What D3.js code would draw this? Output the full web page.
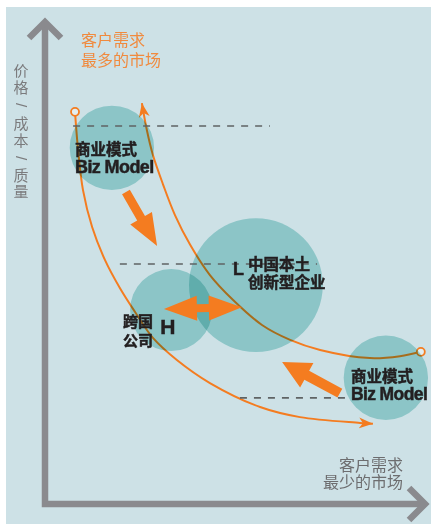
<!DOCTYPE html>
<html>
<head>
<meta charset="utf-8">
<script src="https://cdn.jsdelivr.net/npm/d3@7"></script>
<style>
  html, body { margin: 0; padding: 0; background: #fff; }
  svg { display: block; }
  text { font-family: "Liberation Sans", "Noto Sans CJK SC", sans-serif; }
</style>
</head>
<body>
<svg id="chart" width="431" height="524"></svg>
<script>
// chart units: x = 客户需求 (0-100), y = 价格/成本/质量 (0-100)
const bubbles = [
  { id: 'biz1', x: 17.6, y: 74.2, r: 11.1 },
  { id: 'local', x: 55.5, y: 45.6, r: 17.6 },
  { id: 'multi', x: 33.2, y: 40.4, r: 10.8 },
  { id: 'biz2', x: 89.7, y: 26.3, r: 11.1 }
];

// curve going down from the high end
const curveDown = [
  [7.9, 81.7], [8.7, 73.8], [10.0, 65.4], [12.4, 57.7], [15.8, 50.8],
  [19.7, 45.0], [23.7, 40.0], [28.4, 34.6], [34.7, 30.0], [43.4, 25.2],
  [56.6, 20.2], [67.1, 18.1], [82.9, 16.9], [86.3, 16.7]
];
// curve going up from the low end
const curveUp = [
  [98.9, 31.7], [93.4, 30.8], [85.5, 30.4], [72.4, 32.1], [64.5, 34.2],
  [57.1, 37.3], [49.5, 42.5], [43.4, 47.7], [38.2, 54.0], [34.2, 60.2],
  [31.1, 66.5], [28.4, 72.7], [26.8, 77.9], [25.5, 83.5]
];

const dashes = [
  { y: 78.75, x1: 7.4, x2: 59.2 },
  { y: 50.0, x1: 19.7, x2: 71.6 },
  { y: 22.1, x1: 51.3, x2: 80.8 }
];

const bigArrows = [
  { from: [21.3, 65.0], to: [29.5, 53.75], w: 9, hl: 32, hw: 25, both: false },
  { from: [77.6, 23.1], to: [62.4, 29.6], w: 10, hl: 28, hw: 28, both: false },
  { from: [31.3, 40.6], to: [51.8, 41.0], w: 8, hl: 33, hw: 25, both: true }
];

const labels = [
  { t: '商业模式', x: 7.9, y: 72.7, size: 15.5 },
  { t: 'Biz Model', x: 7.9, y: 69.0, size: 18 },
  { t: 'L', x: 49.5, y: 47.7, size: 18 },
  { t: '中国本土', x: 53.4, y: 48.75, size: 15.5 },
  { t: '创新型企业', x: 53.4, y: 45.0, size: 15.5 },
  { t: '跨国', x: 20.5, y: 36.9, size: 15 },
  { t: '公司', x: 20.5, y: 32.9, size: 15 },
  { t: 'H', x: 30.3, y: 35.4, size: 21 },
  { t: '商业模式', x: 80.5, y: 25.4, size: 15.5 },
  { t: 'Biz Model', x: 80.5, y: 21.7, size: 17.5 }
];

const yTitle = ['价', '格', '/', '成', '本', '/', '质', '量'];
const topNote = ['客户需求', '最多的市场'];
const bottomNote = ['客户需求', '最少的市场'];

const orange = '#f47c20';
const svg = d3.select('#chart');

const x = d3.scaleLinear().domain([0, 100]).range([45, 425]);
const y = d3.scaleLinear().domain([0, 100]).range([504, 24]);

svg.append('rect')
  .attr('x', 6).attr('y', 7)
  .attr('width', 425).attr('height', 517)
  .attr('fill', '#cde1e6');

const defs = svg.append('defs');
defs.append('marker')
  .attr('id', 'head')
  .attr('markerUnits', 'userSpaceOnUse')
  .attr('viewBox', '-14 -7 16 14')
  .attr('refX', 0).attr('refY', 0)
  .attr('markerWidth', 16).attr('markerHeight', 14)
  .attr('orient', 'auto')
  .append('path')
  .attr('d', 'M-14,-5.5 L0,0 L-14,5.5 L-10,0 Z')
  .attr('fill', orange);

// axes
svg.append('path')
  .attr('d', `M45,22 L45,504 L425,504`)
  .attr('fill', 'none')
  .attr('stroke', '#8a8a8e')
  .attr('stroke-width', 6.5)
  .attr('stroke-linejoin', 'miter');
svg.append('path')
  .attr('d', 'M29,38 L45,22 L61,38')
  .attr('fill', 'none').attr('stroke', '#8a8a8e').attr('stroke-width', 6.5);
svg.append('path')
  .attr('d', 'M409,488 L425,504 L409,520')
  .attr('fill', 'none').attr('stroke', '#8a8a8e').attr('stroke-width', 6.5);

// y title, one glyph per row
const yRows = [70, 87, 105, 123, 140, 158, 175, 191];
svg.selectAll('text.ytitle')
  .data(yTitle)
  .join('text')
  .attr('class', 'ytitle')
  .attr('x', 21)
  .attr('y', (d, i) => yRows[i])
  .attr('text-anchor', 'middle')
  .attr('dominant-baseline', 'central')
  .attr('transform', (d, i) => d === '/' ? `rotate(90,21,${yRows[i]})` : null)
  .attr('fill', '#7b7b7d')
  .style('font-size', '15px')
  .text(d => d);

svg.selectAll('text.topnote')
  .data(topNote)
  .join('text')
  .attr('class', 'topnote')
  .attr('x', 81)
  .attr('y', (d, i) => 46 + i * 20)
  .attr('fill', '#f08a3e')
  .style('font-size', '16px')
  .text(d => d);

svg.selectAll('text.botnote')
  .data(bottomNote)
  .join('text')
  .attr('class', 'botnote')
  .attr('x', 403)
  .attr('y', (d, i) => 471 + i * 17)
  .attr('text-anchor', 'end')
  .attr('fill', '#6d6d6f')
  .style('font-size', '16px')
  .text(d => d);

// curves
const line = d3.line()
  .x(d => x(d[0]))
  .y(d => y(d[1]))
  .curve(d3.curveCatmullRom.alpha(0.5));

[curveDown, curveUp].forEach(c => {
  svg.append('path')
    .attr('d', line(c))
    .attr('fill', 'none')
    .attr('stroke', orange)
    .attr('stroke-width', 2)
    .attr('marker-end', 'url(#head)');
});

// open ends of the curves
svg.selectAll('circle.end')
  .data([curveDown[0], curveUp[0]])
  .join('circle')
  .attr('class', 'end')
  .attr('cx', d => x(d[0]))
  .attr('cy', d => y(d[1]))
  .attr('r', 4)
  .attr('fill', '#e4eef0')
  .attr('stroke', orange)
  .attr('stroke-width', 1.8);

// bubbles
svg.selectAll('circle.bubble')
  .data(bubbles)
  .join('circle')
  .attr('class', 'bubble')
  .attr('cx', d => x(d.x))
  .attr('cy', d => y(d.y))
  .attr('r', d => x(d.r) - x(0))
  .attr('fill', '#aee0dd')
  .style('mix-blend-mode', 'multiply');

// dashed levels
svg.selectAll('line.level')
  .data(dashes)
  .join('line')
  .attr('class', 'level')
  .attr('x1', d => x(d.x1)).attr('x2', d => x(d.x2))
  .attr('y1', d => y(d.y)).attr('y2', d => y(d.y))
  .attr('stroke', '#5f6364')
  .attr('stroke-width', 1.6)
  .attr('stroke-dasharray', '7 7');

// labels
svg.selectAll('text.lab')
  .data(labels)
  .join('text')
  .attr('class', 'lab')
  .attr('x', d => x(d.x))
  .attr('y', d => y(d.y))
  .attr('fill', '#231f20')
  .attr('stroke', '#231f20')
  .attr('stroke-width', 0.5)
  .style('font-weight', 'bold')
  .style('font-size', d => d.size + 'px')
  .style('letter-spacing', d => /Biz/.test(d.t) ? '-0.6px' : null)
  .text(d => d.t);

// fat arrows
function arrowShape(a) {
  const p0 = [x(a.from[0]), y(a.from[1])];
  const p1 = [x(a.to[0]), y(a.to[1])];
  const len = Math.hypot(p1[0] - p0[0], p1[1] - p0[1]);
  const u = [(p1[0] - p0[0]) / len, (p1[1] - p0[1]) / len];
  const n = [-u[1], u[0]];
  const at = (p, s, t) => [p[0] + u[0] * s + n[0] * t, p[1] + u[1] * s + n[1] * t];
  let pts;
  if (a.both) {
    pts = [
      p0, at(p0, a.hl, a.hw / 2), at(p0, a.hl, a.w / 2),
      at(p1, -a.hl, a.w / 2), at(p1, -a.hl, a.hw / 2), p1,
      at(p1, -a.hl, -a.hw / 2), at(p1, -a.hl, -a.w / 2),
      at(p0, a.hl, -a.w / 2), at(p0, a.hl, -a.hw / 2)
    ];
  } else {
    pts = [
      at(p0, 0, a.w / 2), at(p1, -a.hl, a.w / 2), at(p1, -a.hl, a.hw / 2), p1,
      at(p1, -a.hl, -a.hw / 2), at(p1, -a.hl, -a.w / 2), at(p0, 0, -a.w / 2)
    ];
  }
  return 'M' + pts.map(p => p.join(',')).join('L') + 'Z';
}

svg.selectAll('path.fat')
  .data(bigArrows)
  .join('path')
  .attr('class', 'fat')
  .attr('d', arrowShape)
  .attr('fill', orange);
</script>
</body>
</html>
